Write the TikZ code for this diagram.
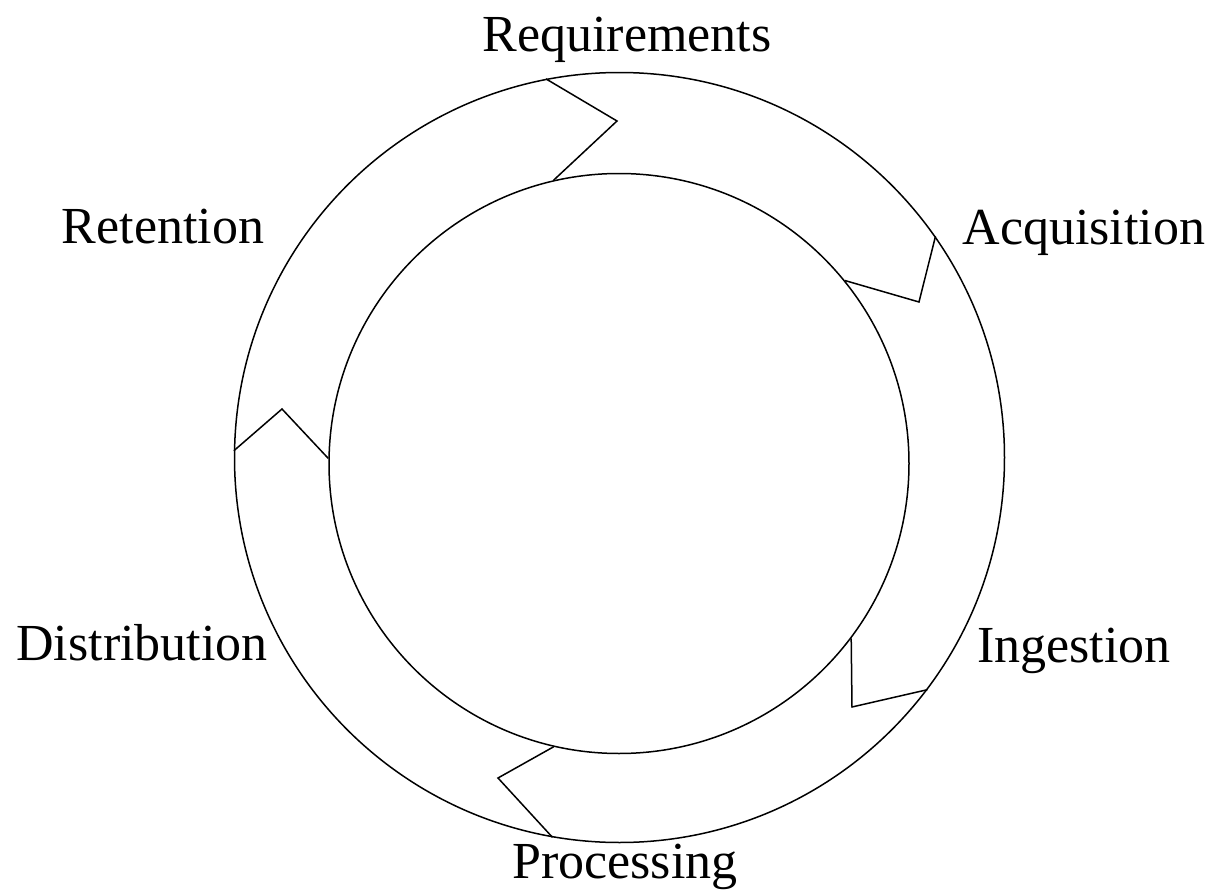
\documentclass[tikz,border=0pt]{standalone}
\usepackage{fontspec}
\setmainfont{Liberation Serif}
\begin{document}
\begin{tikzpicture}[x=0.5pt,y=-0.5pt,
  ring/.style={circle, draw, line width=0.75pt, inner sep=0pt},
  chev/.style={draw, line width=0.75pt, line join=miter},
  lbl/.style={anchor=base, inner sep=0pt, font=\fontsize{26}{30}\selectfont}]
\useasboundingbox (0,0) rectangle (1212,894);
\node[ring, minimum size=385pt] (outer) at (619.5,457.5) {};
\node[ring, minimum size=290pt] (inner) at (619,463.5) {};
% chevron tips
\coordinate (t1) at (617,121);
\coordinate (t2) at (919,302);
\coordinate (t3) at (852,707);
\coordinate (t4) at (498,778);
\coordinate (t5) at (282,409);
\draw[chev] (outer.101.5) -- (t1) -- (inner.103.3);
\draw[chev] (outer.35.4) -- (t2) -- (inner.39.1);
\draw[chev] (inner.-37.1) -- (t3) -- (outer.-37);
\draw[chev] (inner.-103.3) -- (t4) -- (outer.-100.9);
\draw[chev] (outer.179.6) -- (t5) -- (inner.179.7);
% labels
\node[lbl] (req) at (627,51) {Requirements};
\node[lbl] (acq) at (1084,244) {Acquisition};
\node[lbl] (ing) at (1074,662) {Ingestion};
\node[lbl] (pro) at (625,878) {Processing};
\node[lbl] (dis) at (142,660) {Distribution};
\node[lbl] (ret) at (163,243) {Retention};
\end{tikzpicture}
\end{document}
